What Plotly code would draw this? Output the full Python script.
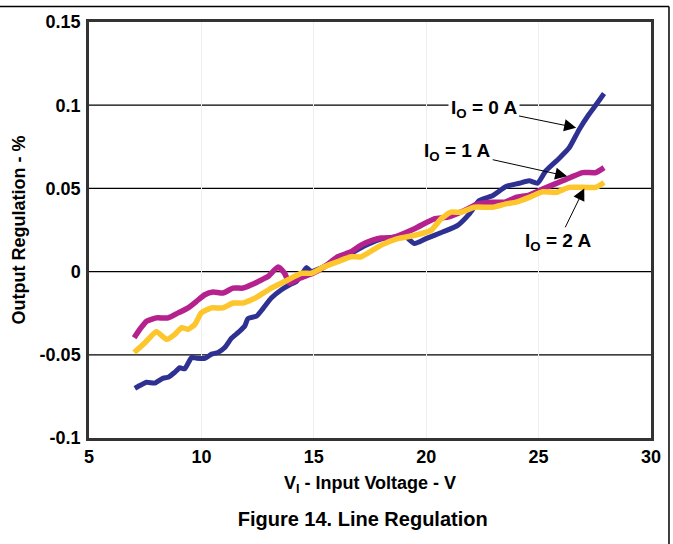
import plotly.graph_objects as go

# ---- data ----
x_0a = [7.04, 7.26, 7.56, 7.93, 8.30, 8.52, 8.82, 9.04, 9.26, 9.56, 9.78, 10.15, 10.45, 10.74,
        11.04, 11.34, 11.63, 11.93, 12.07, 12.45, 12.74, 13.11, 13.56, 13.93, 14.22, 14.45,
        14.67, 14.89, 15.3, 15.7, 16.06, 16.6, 17.18, 17.6, 18.07, 18.6, 19.1, 19.48, 19.99,
        20.73, 21.4, 21.92, 22.36, 22.95, 23.55, 24.14, 24.58, 24.95, 25.32, 25.91, 26.36,
        26.8, 27.25, 27.54, 27.91]
y_0a = [-0.0702, -0.0685, -0.0665, -0.0670, -0.0640, -0.0635, -0.0605, -0.0578, -0.0584,
        -0.0516, -0.0520, -0.0522, -0.0496, -0.0486, -0.0456, -0.0400, -0.0367, -0.0327,
        -0.0282, -0.0268, -0.0222, -0.0159, -0.0109, -0.0079, -0.0060, -0.0020, 0.0024,
        0.0000, 0.0020, 0.0048, 0.0070, 0.0105, 0.0149, 0.0175, 0.0198, 0.0208, 0.0208,
        0.0169, 0.0198, 0.0238, 0.0278, 0.0347, 0.0427, 0.0456, 0.0511, 0.0531, 0.0546,
        0.0531, 0.0605, 0.0680, 0.0744, 0.0853, 0.0947, 0.1000, 0.1070]

x_1a = [7.01, 7.26, 7.56, 8.0, 8.52, 8.97, 9.41, 9.78, 10.15, 10.52, 10.96, 11.41, 11.85,
        12.3, 12.52, 12.96, 13.41, 13.7, 13.93, 14.37, 14.96, 15.48, 16.07, 16.66, 17.1,
        17.62, 18.0, 18.44, 19.48, 20.36, 20.96, 21.7, 22.29, 22.95, 23.5, 24.0, 24.58,
        25.18, 26.07, 26.96, 27.54, 27.91]
y_1a = [-0.0397, -0.0347, -0.0298, -0.0278, -0.0278, -0.0248, -0.0218, -0.0179, -0.0139,
        -0.0123, -0.0129, -0.0099, -0.0099, -0.0075, -0.0060, -0.0030, 0.0028, -0.0010,
        -0.0070, -0.0040, -0.0010, 0.0030, 0.0089, 0.0119, 0.0159, 0.0189, 0.0202, 0.0202,
        0.0258, 0.0317, 0.0327, 0.0367, 0.0407, 0.0417, 0.0417, 0.0446, 0.0460, 0.0496,
        0.0546, 0.0595, 0.0595, 0.0625]

x_2a = [7.01, 7.49, 8.0, 8.45, 8.82, 9.12, 9.41, 9.71, 10.0, 10.45, 10.96, 11.41, 11.85,
        12.3, 12.52, 13.11, 13.7, 14.45, 14.89, 15.48, 16.07, 16.66, 17.1, 17.62, 18.0,
        18.73, 19.48, 20.21, 20.66, 21.1, 21.55, 22.14, 22.95, 23.55, 24.0, 24.58, 25.18,
        25.77, 26.36, 27.1, 27.54, 27.91]
y_2a = [-0.0486, -0.0427, -0.0361, -0.0407, -0.0377, -0.0337, -0.0347, -0.0317, -0.0248,
        -0.0218, -0.0218, -0.0189, -0.0189, -0.0165, -0.0149, -0.0099, -0.0060, -0.0010,
        -0.0010, 0.0030, 0.0060, 0.0089, 0.0089, 0.0129, 0.0159, 0.0198, 0.0218, 0.0248,
        0.0317, 0.0357, 0.0357, 0.0387, 0.0387, 0.0407, 0.0417, 0.0446, 0.0480, 0.0476,
        0.0506, 0.0506, 0.0506, 0.0536]

x_ticks = [5, 10, 15, 20, 25, 30]
y_ticks = [-0.1, -0.05, 0, 0.05, 0.1, 0.15]
y_tick_labels = ["-0.1", "-0.05", "0", "0.05", "0.1", "0.15"]

# curve labels: text, label centre (x, y), arrow tip (x, y)
labels = ["I<sub>O</sub> = 0 A", "I<sub>O</sub> = 1 A", "I<sub>O</sub> = 2 A"]
label_xy = [(22.55, 0.0979), (21.38, 0.0720), (25.87, 0.0179)]
tip_xy = [(26.67, 0.0865), (26.27, 0.0573), (27.03, 0.0500)]

FONT = "Liberation Sans, Arial, sans-serif"

fig = go.Figure()
fig.add_trace(go.Scatter(x=x_0a, y=y_0a, mode="lines",
                         line=dict(color="#2E3192", width=5, shape="spline", smoothing=0.5),
                         name="IO = 0 A"))
fig.add_trace(go.Scatter(x=x_1a, y=y_1a, mode="lines",
                         line=dict(color="#B5218D", width=5.5, shape="spline", smoothing=0.5),
                         name="IO = 1 A"))
fig.add_trace(go.Scatter(x=x_2a, y=y_2a, mode="lines",
                         line=dict(color="#FDC62C", width=5.5, shape="spline", smoothing=0.5),
                         name="IO = 2 A"))

# horizontal black grid lines
for gy in [-0.05, 0, 0.05, 0.1]:
    fig.add_shape(type="line", xref="x", yref="y", x0=5, x1=30, y0=gy, y1=gy,
                  line=dict(color="black", width=1.2), layer="below")

lab_font = dict(family=FONT, size=19, color="black", weight="bold")
for i, (txt, (lx, ly), (tx, ty)) in enumerate(zip(labels, label_xy, tip_xy)):
    fig.add_annotation(x=tx, y=ty, ax=lx, ay=ly, xref="x", yref="y", axref="x", ayref="y",
                       text=txt, showarrow=True, arrowhead=2, arrowsize=2.4,
                       arrowwidth=1.0, arrowcolor="black", font=lab_font,
                       bgcolor="white" if i == 0 else "rgba(0,0,0,0)", borderpad=2)

# page frame (top and right rules)
fig.add_shape(type="line", xref="paper", yref="paper", x0=-0.2, x1=1.032, y0=1.037, y1=1.037,
              line=dict(color="black", width=1.5))
fig.add_shape(type="line", xref="paper", yref="paper", x0=1.032, x1=1.032, y0=-0.3, y1=1.037,
              line=dict(color="black", width=1.5))

tick_font = dict(family=FONT, size=18, color="black", weight="bold")
fig.update_layout(
    width=673, height=544,
    margin=dict(l=89, r=21, t=18, b=106),
    paper_bgcolor="white", plot_bgcolor="white",
    showlegend=False,
    font=dict(family=FONT, color="black"),
    title=dict(text="Figure 14. Line Regulation", x=0.487, xref="paper", xanchor="center",
               y=0.046, yref="container", yanchor="middle",
               font=dict(family=FONT, size=20, color="black", weight="bold")),
    xaxis=dict(range=[5, 30], tickvals=x_ticks, ticks="", ticklabelstandoff=1,
               showgrid=True, gridcolor="#efefef", gridwidth=1,
               showline=True, mirror=True, linecolor="#333333", linewidth=2.5,
               zeroline=False, tickfont=tick_font,
               title=dict(text="V<sub>I</sub> - Input Voltage - V", standoff=11,
                          font=dict(family=FONT, size=18, color="black", weight="bold"))),
    yaxis=dict(range=[-0.1, 0.15], tickvals=y_ticks, ticktext=y_tick_labels, ticks="",
               ticklabelstandoff=2, showgrid=False,
               showline=True, mirror=True, linecolor="#333333", linewidth=2.5,
               zeroline=False, tickfont=tick_font,
               title=dict(text="Output Regulation - %", standoff=10,
                          font=dict(family=FONT, size=18, color="black", weight="bold"))),
)

fig.write_html("out.html", config={"displayModeBar": False},
               post_script="document.body.style.margin='0';")
